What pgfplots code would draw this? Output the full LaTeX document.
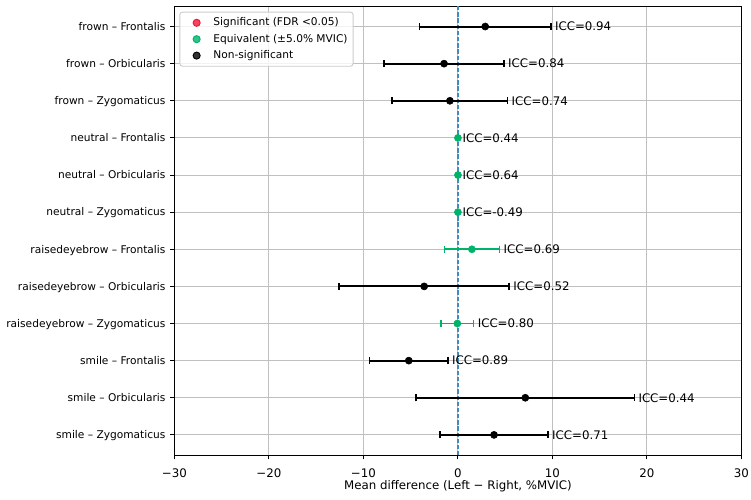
\documentclass[border=0pt]{standalone}
\usepackage{pgfplots}
\pgfplotsset{compat=1.18}
\usepackage{pgfplotstable}
\usepackage{fontspec}
\setmainfont{DejaVu Sans}
\usetikzlibrary{calc}

\definecolor{sigc}{HTML}{F5143C}
\definecolor{equivc}{HTML}{00B36B}
\definecolor{zeroline}{HTML}{1F77B4}
\definecolor{gridc}{HTML}{B0B0B0}

% row index, mean difference, half-width of the interval, ICC
\pgfplotstableread{
row m e icc
0 2.89 6.95 0.94
1 -1.47 6.35 0.84
2 -0.85 6.10 0.74
7 -3.57 9.00 0.52
9 -5.20 4.14 0.89
10 7.13 11.54 0.44
11 3.82 5.72 0.71
}\nonsigtab
\pgfplotstableread{
row m e icc
3 0.00 0.05 0.44
4 0.00 0.05 0.64
5 0.00 0.05 -0.49
6 1.48 2.92 0.69
8 -0.06 1.72 0.80
}\equivtab

\newcommand\tickfont{\fontsize{8.5}{10}\selectfont}
\newcommand\smallfont{\fontsize{7.65}{9}\selectfont}

\begin{document}
\begin{tikzpicture}
\begin{axis}[
  name=ax,
  scale only axis,
  width=408.2pt, height=323.4pt,
  xmin=-30, xmax=30, ymin=-0.55, ymax=11.55,
  y dir=reverse,
  xtick={-30,-20,-10,0,10,20,30},
  xticklabels={−30,−20,−10,0,10,20,30},
  ytick={0,1,2,3,4,5,6,7,8,9,10,11},
  yticklabels={frown – Frontalis, frown – Orbicularis, frown – Zygomaticus,
    neutral – Frontalis, neutral – Orbicularis, neutral – Zygomaticus,
    raisedeyebrow – Frontalis, raisedeyebrow – Orbicularis, raisedeyebrow – Zygomaticus,
    smile – Frontalis, smile – Orbicularis, smile – Zygomaticus},
  xtick pos=lower, ytick pos=left,
  tick align=outside, major tick length=3pt,
  tick style={black, line width=0.68pt},
  axis line style={line width=0.68pt},
  grid=major, grid style={gridc!80, line width=0.68pt},
  xticklabel style={font=\tickfont, anchor=base, inner sep=0pt, yshift=-13pt},
  yticklabel style={font=\smallfont, anchor=mid east, inner sep=0pt, xshift=-3.3pt},
  xlabel={Mean difference (Left − Right, \%MVIC)},
  xlabel style={font=\tickfont, at={(axis description cs:0.5,0)}, anchor=base, inner sep=0pt, yshift=-24.5pt},
  legend style={at={(axis description cs:0,1)}, anchor=north west,
    xshift=3.5pt, yshift=-4pt, draw=black!20, line width=0.68pt,
    rounded corners=2pt, fill=white, fill opacity=0.8, text opacity=1,
    font=\smallfont, inner xsep=2pt, inner ysep=2pt, row sep=0.5pt},
  legend cell align=left,
  legend image code/.code={\draw[#1] plot coordinates {(9.8pt,0pt)};\path (0pt,0pt) (19.5pt,0pt);},
]
\addlegendimage{only marks, mark=*, mark size=2.55pt, sigc}
\addlegendimage{only marks, mark=*, mark size=2.55pt, equivc}
\addlegendimage{only marks, mark=*, mark size=2.55pt, black}
\legend{Significant (FDR <0.05), Equivalent (±5.0\% MVIC), Non-significant}

% reference line at zero difference
\addplot[zeroline!85, line width=0.85pt, dash pattern=on 3.1pt off 1.35pt] coordinates {(0,-0.55) (0,11.55)};

\addplot[only marks, mark=*, mark size=2.55pt, black,
  error bars/.cd, x dir=both, x explicit, error mark=|,
  error bar style={line width=1.4pt},
  error mark options={line width=1.1pt, mark size=2.55pt}]
  table[x=m, y=row, x error=e] {\nonsigtab};
\addplot[only marks, mark=*, mark size=2.55pt, equivc,
  error bars/.cd, x dir=both, x explicit, error mark=|,
  error bar style={line width=1.4pt},
  error mark options={line width=1.1pt, mark size=2.55pt}]
  table[x=m, y=row, x error=e] {\equivtab};

% ICC labels beside the upper end of each interval
\addplot[draw=none, point meta=explicit symbolic,
  nodes near coords={ICC=\pgfplotspointmeta},
  nodes near coords style={anchor=west, inner sep=0pt, xshift=2.8pt, font=\tickfont, black}]
  table[x expr=\thisrow{m}+\thisrow{e}, y=row, meta=icc] {\nonsigtab};
\addplot[draw=none, point meta=explicit symbolic,
  nodes near coords={ICC=\pgfplotspointmeta},
  nodes near coords style={anchor=west, inner sep=0pt, xshift=2.8pt, font=\tickfont, black}]
  table[x expr=\thisrow{m}+\thisrow{e}, y=row, meta=icc] {\equivtab};
\end{axis}
\pgfresetboundingbox
\path[use as bounding box] ($(ax.south west)+(-125.6pt,-31.5pt)$) rectangle ($(ax.north east)+(6.9pt,4.4pt)$);
\end{tikzpicture}
\end{document}
